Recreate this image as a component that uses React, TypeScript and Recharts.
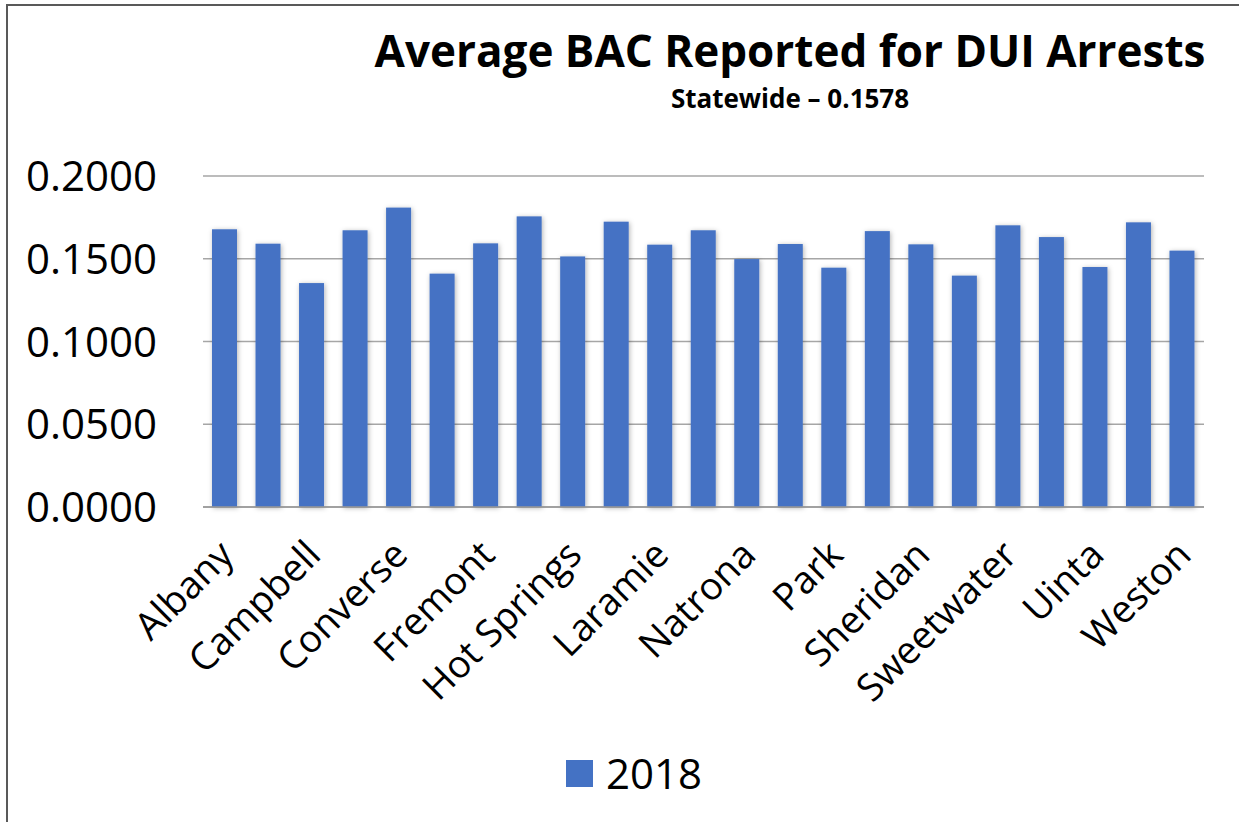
import { BarChart, Bar, XAxis, YAxis, CartesianGrid, Legend } from 'recharts';

// Wyoming counties, average BAC for DUI arrests (2018)
const counties = [
  'Albany', 'Big Horn', 'Campbell', 'Carbon', 'Converse', 'Crook', 'Fremont', 'Goshen',
  'Hot Springs', 'Johnson', 'Laramie', 'Lincoln', 'Natrona', 'Niobrara', 'Park', 'Platte',
  'Sheridan', 'Sublette', 'Sweetwater', 'Teton', 'Uinta', 'Washakie', 'Weston',
];
const bac2018 = [
  0.1678, 0.1591, 0.1353, 0.1672, 0.1809, 0.141, 0.1593, 0.1756,
  0.1514, 0.1724, 0.1585, 0.1672, 0.1498, 0.1589, 0.1446, 0.1667,
  0.1587, 0.1398, 0.1702, 0.1631, 0.145, 0.172, 0.1549,
];
const yTicks = [0, 0.05, 0.1, 0.15, 0.2];
const seriesName = '2018';

const data = counties.map((county, i) => ({ county, bac: bac2018[i] }));

const FONT = '"Open Sans", sans-serif';
const BLUE = '#4472C4';

function YTick({ y, payload }: any) {
  return (
    <text x={157} y={y} dy="0.36em" textAnchor="end" fontSize={42} fontFamily={FONT} fill="#000">
      {Number(payload.value).toFixed(4)}
    </text>
  );
}

function XTick({ x, payload }: any) {
  const ax = x + 11;
  const ay = 557;
  return (
    <text
      x={ax}
      y={ay}
      transform={`rotate(-45 ${ax} ${ay})`}
      textAnchor="end"
      fontSize={38}
      fontFamily={FONT}
      fill="#000"
    >
      {payload.value}
    </text>
  );
}

function LegendBox() {
  return (
    <div style={{ display: 'flex', alignItems: 'center', fontFamily: FONT }}>
      <span style={{ width: 27, height: 27, background: BLUE, marginRight: 13, display: 'inline-block' }} />
      <span style={{ fontSize: 42, lineHeight: '50px', color: '#000' }}>{seriesName}</span>
    </div>
  );
}

export default function App() {
  return (
    <div style={{ position: 'absolute', left: 0, top: 0, width: 1239, height: 822, background: '#fff' }}>
      <svg width={0} height={0} style={{ position: 'absolute' }}>
        <defs>
          <filter id="barShadow" x="-30%" y="-10%" width="160%" height="120%">
            <feDropShadow dx={1} dy={1} stdDeviation={2.5} floodColor="#000" floodOpacity={0.3} />
          </filter>
        </defs>
      </svg>
      <div
        style={{
          position: 'absolute',
          left: 6,
          top: 4,
          right: 0,
          bottom: 0,
          borderLeft: '2px solid #595959',
          borderTop: '2px solid #595959',
        }}
      />
      <div
        style={{
          position: 'absolute',
          left: 290,
          width: 1000,
          top: 20,
          textAlign: 'center',
          fontFamily: FONT,
          fontWeight: 700,
          fontSize: 44,
          lineHeight: '60px',
          color: '#000',
        }}
      >
        Average BAC Reported for DUI Arrests
      </div>
      <div
        style={{
          position: 'absolute',
          left: 390,
          width: 800,
          top: 81,
          textAlign: 'center',
          fontFamily: FONT,
          fontWeight: 700,
          fontSize: 26,
          lineHeight: '34px',
          color: '#000',
        }}
      >
        Statewide – 0.1578
      </div>
      <BarChart width={1239} height={822} data={data} margin={{ top: 176, right: 35, bottom: 0, left: 0 }}>
        <CartesianGrid vertical={false} stroke="#a6a6a6" strokeWidth={1.5} />
        <XAxis
          dataKey="county"
          interval={1}
          height={315}
          tickLine={false}
          axisLine={{ stroke: '#999', strokeWidth: 1.5 }}
          tick={<XTick />}
        />
        <YAxis
          width={203}
          domain={[0, 0.2]}
          ticks={yTicks}
          axisLine={false}
          tickLine={false}
          tick={<YTick />}
        />
        <Legend
          layout="horizontal"
          verticalAlign="middle"
          align="center"
          wrapperStyle={{ top: 748, left: 566, width: 200 }}
          content={<LegendBox />}
        />
        <Bar
          dataKey="bac"
          name={seriesName}
          fill={BLUE}
          barSize={25}
          isAnimationActive={false}
          shape={(p: any) => (
            <rect x={p.x} y={p.y} width={p.width} height={p.height} fill={BLUE} filter="url(#barShadow)" />
          )}
        />
      </BarChart>
    </div>
  );
}
